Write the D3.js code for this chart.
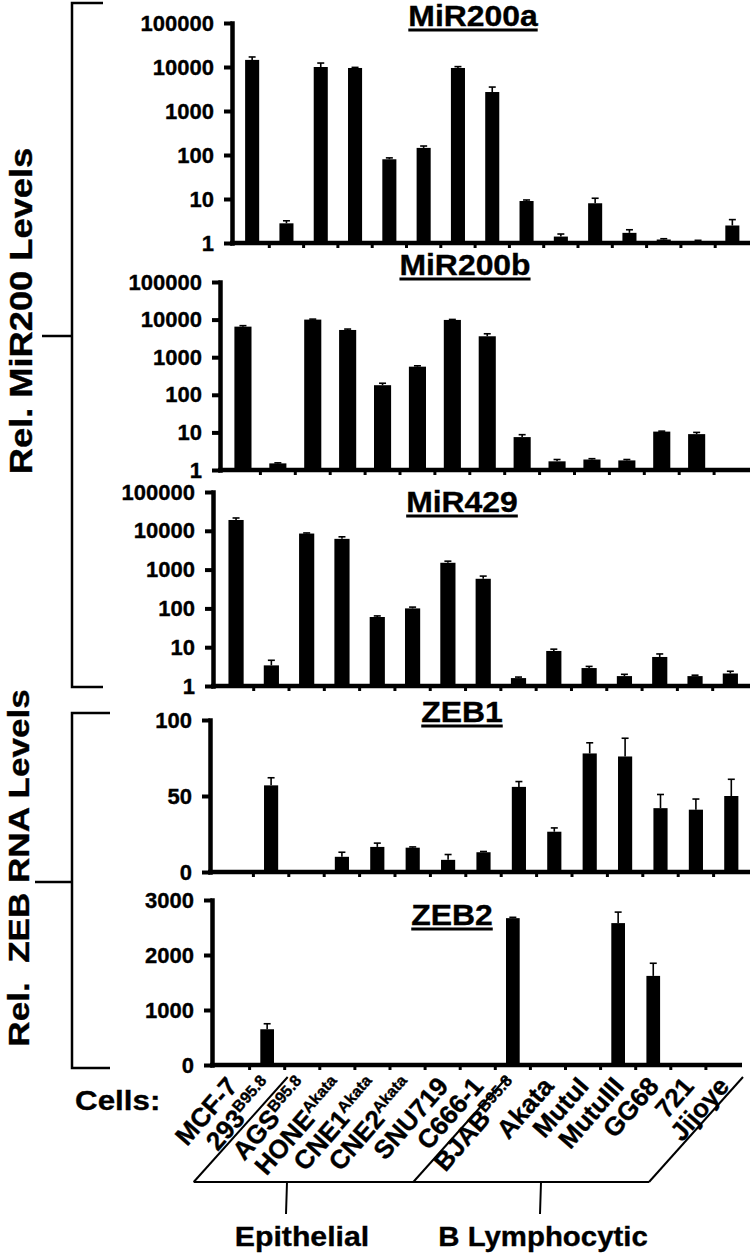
<!DOCTYPE html>
<html>
<head>
<meta charset="utf-8">
<script src="https://cdn.jsdelivr.net/npm/d3@7"></script>
<style>
  body { margin: 0; background: #fff; }
  svg text { font-family: "Liberation Sans", Arial, Helvetica, sans-serif; font-weight: bold; fill: #000; stroke: #000; stroke-width: 0.35px; }
</style>
</head>
<body>
<svg id="chart" width="750" height="1256"></svg>
<script>
// cell lines (base name + superscript)
var cells = ["MCF-7", "293", "AGS", "HONE", "CNE1", "CNE2", "SNU719", "C666-1", "BJAB", "Akata", "MutuI", "MutuIII", "GG68", "721", "Jijoye"];
var cellSup = ["", "B95.8", "B95.8", "Akata", "Akata", "Akata", "", "", "B95.8", "", "", "", "", "", ""];

// values
var miR200a = [14500, 2.8, 10000, 9500, 80, 145, 9500, 2700, 9, 1.4, 8, 1.7, 1.2, 1.1, 2.5];
var miR200aErr = [2400, 0.4, 2300, 300, 6, 15, 700, 800, 0.5, 0.2, 2.4, 0.3, 0.05, 0.05, 0.9];

var miR200b = [6500, 1.5, 10000, 5300, 180, 560, 9800, 3600, 7.5, 1.7, 1.9, 1.8, 10.5, 9, 1];
var miR200bErr = [400, 0.05, 300, 300, 23, 30, 300, 600, 1.2, 0.2, 0.1, 0.1, 0.3, 1, 0];

var miR429 = [19000, 3.4, 8500, 6200, 60, 100, 1500, 580, 1.6, 8, 2.9, 1.8, 5.6, 1.8, 2.1];
var miR429Err = [2400, 1.2, 300, 800, 4, 8, 150, 100, 0.1, 0.9, 0.3, 0.2, 1.1, 0.1, 0.3];

var zeb1 = [0, 57, 1, 10, 16.5, 16, 8, 13, 56, 26.5, 78, 76, 42, 41, 50];
var zeb1Err = [0, 5, 0, 3, 2.5, 0.5, 3.5, 0.5, 3.5, 2.5, 7, 12, 9, 7, 11];

var zeb2 = [0, 650, 0, 0, 0, 0, 0, 0, 2670, 0, 0, 2580, 1620, 0, 0];
var zeb2Err = [0, 100, 0, 0, 0, 0, 0, 0, 15, 0, 0, 200, 230, 0, 0];

var logTicks = [1, 10, 100, 1000, 10000, 100000];
var zeb1Ticks = [0, 50, 100];
var zeb2Ticks = [0, 1000, 2000, 3000];

var panels = [
  { title: "MiR200a", values: miR200a, err: miR200aErr, log: true, domain: [1, 100000], ticks: logTicks,
    axisX: 232, x0: 235, x1: 749.5, pad: 0.59, yTop: 23, yBot: 243, lineEnd: 750, tx: 473, ty: 26 },
  { title: "MiR200b", values: miR200b, err: miR200bErr, log: true, domain: [1, 100000], ticks: logTicks,
    axisX: 220, x0: 225.5, x1: 749, pad: 0.51, yTop: 282, yBot: 470, lineEnd: 750, tx: 465, ty: 275 },
  { title: "MiR429", values: miR429, err: miR429Err, log: true, domain: [1, 100000], ticks: logTicks,
    axisX: 213, x0: 218.4, x1: 748, pad: 0.57, yTop: 492, yBot: 686, lineEnd: 750, tx: 462, ty: 512 },
  { title: "ZEB1", values: zeb1, err: zeb1Err, log: false, domain: [0, 100], ticks: zeb1Ticks,
    axisX: 210, x0: 218, x1: 749, pad: 0.6, yTop: 720, yBot: 872, lineEnd: 750, tx: 462, ty: 722 },
  { title: "ZEB2", values: zeb2, err: zeb2Err, log: false, domain: [0, 3000], ticks: zeb2Ticks,
    axisX: 212, x0: 214.5, x1: 741, pad: 0.61, yTop: 900, yBot: 1065, lineEnd: 742, tx: 452, ty: 925 }
];

var svg = d3.select("#chart");
var lastX = null;

panels.forEach(function (p) {
  var g = svg.append("g").attr("class", "panel");

  var x = d3.scaleBand().domain(cells).range([p.x0, p.x1])
    .paddingInner(p.pad).paddingOuter(p.pad / 2);
  var y = p.log ? d3.scaleLog().domain(p.domain).range([p.yBot, p.yTop])
                : d3.scaleLinear().domain(p.domain).range([p.yBot, p.yTop]);
  var base = p.domain[0];
  lastX = x;

  var rows = cells.map(function (c, i) { return { cell: c, v: p.values[i], e: p.err[i] }; })
    .filter(function (d) { return d.v > base; });

  // bars
  g.selectAll("rect.bar").data(rows).enter().append("rect")
    .attr("class", "bar")
    .attr("x", function (d) { return x(d.cell); })
    .attr("width", x.bandwidth())
    .attr("y", function (d) { return y(d.v); })
    .attr("height", function (d) { return y(base) - y(d.v); })
    .attr("fill", "#000");

  // error bars (upper half only)
  var eb = g.selectAll("g.err").data(rows.filter(function (d) { return d.e > 0; })).enter()
    .append("g").attr("class", "err");
  eb.append("line")
    .attr("x1", function (d) { return x(d.cell) + x.bandwidth() / 2; })
    .attr("x2", function (d) { return x(d.cell) + x.bandwidth() / 2; })
    .attr("y1", function (d) { return y(d.v); })
    .attr("y2", function (d) { return y(d.v + d.e); })
    .attr("stroke", "#000").attr("stroke-width", 1.6);
  eb.append("line")
    .attr("x1", function (d) { return x(d.cell) + x.bandwidth() / 2 - 3.5; })
    .attr("x2", function (d) { return x(d.cell) + x.bandwidth() / 2 + 3.5; })
    .attr("y1", function (d) { return y(d.v + d.e); })
    .attr("y2", function (d) { return y(d.v + d.e); })
    .attr("stroke", "#000").attr("stroke-width", 1.6);

  // baseline + small ticks between bands
  g.append("line")
    .attr("x1", p.axisX - 2).attr("x2", p.lineEnd)
    .attr("y1", y(base)).attr("y2", y(base))
    .attr("stroke", "#000").attr("stroke-width", 4.5);
  var bounds = d3.range(1, cells.length).map(function (k) { return p.x0 + k * x.step(); });
  g.selectAll("line.btick").data(bounds).enter().append("line")
    .attr("class", "btick")
    .attr("x1", function (d) { return d; }).attr("x2", function (d) { return d; })
    .attr("y1", y(base)).attr("y2", y(base) + 5)
    .attr("stroke", "#000").attr("stroke-width", 3);

  // y axis
  var yAxis = d3.axisLeft(y).tickValues(p.ticks).tickSize(8).tickSizeOuter(0).tickPadding(10)
    .tickFormat(d3.format("d"));
  var ax = g.append("g").attr("transform", "translate(" + p.axisX + ",0)").call(yAxis);
  ax.select(".domain").attr("stroke-width", 4.5).attr("stroke-linecap", "square");
  ax.selectAll(".tick line").attr("stroke-width", 4);
  ax.selectAll(".tick text").style("font-size", "22px").style("font-weight", "bold")
    .style("font-family", "'Liberation Sans', Arial, sans-serif").attr("fill", "#000");

  // underlined title
  var t = g.append("text")
    .attr("transform", "translate(" + p.tx + "," + p.ty + ") scale(1.1,1)")
    .attr("text-anchor", "middle")
    .style("font-size", "29px")
    .text(p.title);
  var w = t.node().getComputedTextLength() * 1.1;
  g.append("line")
    .attr("x1", p.tx - w / 2).attr("x2", p.tx + w / 2)
    .attr("y1", p.ty + 4).attr("y2", p.ty + 4)
    .attr("stroke", "#000").attr("stroke-width", 3);
});

// left brackets and y labels
var bracket = svg.append("g").attr("fill", "none").attr("stroke", "#000").attr("stroke-width", 2.5);
bracket.append("path").attr("d", "M103,3H72V687H103M72,336H42");
bracket.append("path").attr("d", "M110,713H72V1068H110M72,882H35");

svg.append("text")
  .attr("transform", "translate(32,311) rotate(-90) scale(1.17,1)")
  .attr("text-anchor", "middle").style("font-size", "31px")
  .text("Rel. MiR200 Levels");
svg.append("text")
  .attr("transform", "translate(29,868) rotate(-90) scale(1.17,1)")
  .attr("text-anchor", "middle").style("font-size", "30px").style("white-space", "pre")
  .text("Rel.  ZEB RNA Levels");

// category labels under the last panel
svg.append("text")
  .attr("transform", "translate(75,1110) scale(1.12,1)")
  .style("font-size", "28px").text("Cells:");

var lab = svg.selectAll("text.cell").data(cells).enter().append("text")
  .attr("class", "cell")
  .attr("text-anchor", "end")
  .style("font-size", "26px")
  .attr("transform", function (d) {
    return "translate(" + (lastX(d) + lastX.bandwidth() / 2 + 7) + ",1087) rotate(-49)";
  });
lab.append("tspan").text(function (d) { return d; });
lab.append("tspan")
  .attr("dy", function (d, i) { return cellSup[i] ? -9 : 0; })
  .style("font-size", "16px")
  .text(function (d, i) { return cellSup[i]; });

// group bracket (parallelogram) below the labels
var step = lastX.step(), lx0 = lastX.range()[0];
var topY = 1077, botY = 1182, slant = 94;
var tops = [lx0 + 2 * step + 3, lx0 + 8 * step + 12, lastX.range()[1] + 2];
var grp = svg.append("g").attr("stroke", "#000").attr("stroke-width", 2).attr("fill", "none");
tops.forEach(function (tx) {
  grp.append("line").attr("x1", tx).attr("y1", topY).attr("x2", tx - slant).attr("y2", botY);
});
grp.append("line").attr("x1", tops[0] - slant).attr("x2", tops[2] - slant).attr("y1", botY).attr("y2", botY);
grp.append("line").attr("x1", 287).attr("x2", 286).attr("y1", botY).attr("y2", 1214);
grp.append("line").attr("x1", 541).attr("x2", 540).attr("y1", botY).attr("y2", 1214);

svg.append("text").attr("transform", "translate(302,1246) scale(1.08,1)")
  .attr("text-anchor", "middle").style("font-size", "28px").text("Epithelial");
svg.append("text").attr("transform", "translate(543,1246) scale(1.05,1)")
  .attr("text-anchor", "middle").style("font-size", "28px").text("B Lymphocytic");
</script>
</body>
</html>
